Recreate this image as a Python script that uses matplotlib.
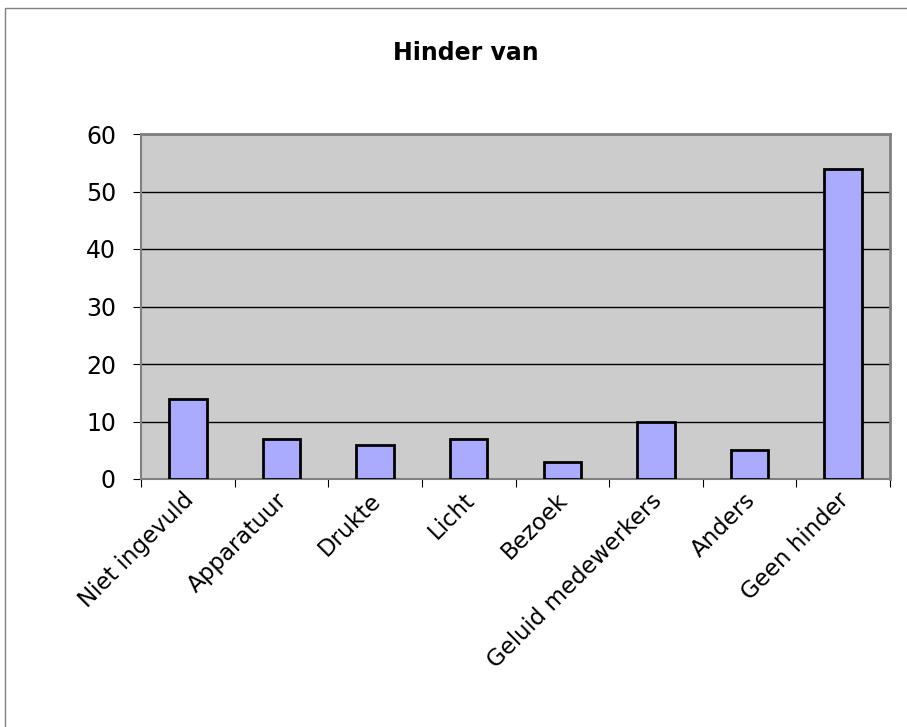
import matplotlib.pyplot as plt
from matplotlib.patches import Rectangle
from matplotlib.transforms import ScaledTranslation

# Data
categories = [
    "Niet ingevuld",
    "Apparatuur",
    "Drukte",
    "Licht",
    "Bezoek",
    "Geluid medewerkers",
    "Anders",
    "Geen hinder",
]
counts = [14, 7, 6, 7, 3, 10, 5, 54]
y_ticks = [0, 10, 20, 30, 40, 50, 60]

W, H = 907, 727
fig = plt.figure(figsize=(W / 100, H / 100), dpi=100)

# Outer chart frame (only left and top edges visible in the reference)
fig.patches.append(
    Rectangle((5 / W, -0.1), 1.2, (H - 8) / H + 0.1, transform=fig.transFigure,
              fill=False, edgecolor="#808080", linewidth=1.0)
)

ax = fig.add_axes([141 / W, 1 - 479 / H, (890 - 141) / W, (479 - 134) / H])
ax.set_facecolor("#CCCCCC")

x = list(range(len(categories)))
ax.bar(x, counts, width=0.4, color="#AAAAFF", edgecolor="black", linewidth=2, zorder=3)

ax.set_xlim(-0.5, len(categories) - 0.5)
ax.set_ylim(0, 60)
ax.set_yticks(y_ticks)
ax.yaxis.grid(True, color="black", linewidth=1, zorder=1)
ax.set_axisbelow(True)

# Category boundary ticks on the x axis
ax.set_xticks([i - 0.5 for i in range(len(categories) + 1)])
ax.set_xticklabels([])
ax.set_xticks(x, minor=True)
ax.set_xticklabels(categories, minor=True, rotation=45, ha="right",
                   rotation_mode="anchor", fontsize=16.5)
ax.tick_params(axis="x", which="minor", length=0, pad=7)
ax.tick_params(axis="x", which="major", length=5.5, color="black", direction="out")
ax.tick_params(axis="y", length=6, labelsize=17, direction="out", pad=12)

# nudge rotated labels slightly left, like the reference
shift = ScaledTranslation(-6 / 100, 0, fig.dpi_scale_trans)
for lbl in ax.get_xticklabels(minor=True):
    lbl.set_transform(lbl.get_transform() + shift)

for side in ["top", "right"]:
    ax.spines[side].set_color("#808080")
    ax.spines[side].set_linewidth(2)
ax.spines["left"].set_color("#808080")
ax.spines["left"].set_linewidth(1.5)
ax.spines["bottom"].set_color("#808080")
ax.spines["bottom"].set_linewidth(1.5)

fig.text(466 / W, 1 - 53 / H, "Hinder van", ha="center",
         va="center", fontsize=17, fontweight="bold")

fig.savefig("out.png", dpi=100)
